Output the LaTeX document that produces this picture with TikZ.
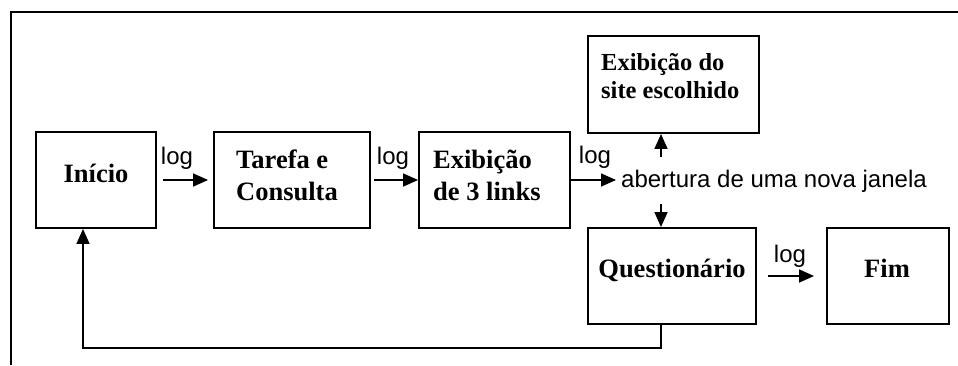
\documentclass[tikz,border=0pt]{standalone}
\usepackage{fontspec}
\setmainfont{Liberation Serif}
\newfontfamily\labfont{Liberation Sans}
\usetikzlibrary{arrows.meta}
\begin{document}
\begin{tikzpicture}[x=1pt,y=-1pt,
  box/.style={draw, line width=1.9pt, inner sep=0pt},
  btext/.style={font=\fontsize{26.5}{32}\selectfont\bfseries, inner sep=0pt, align=left},
  stext/.style={font=\fontsize{24.5}{28}\selectfont\bfseries, inner sep=0pt, align=left},
  lab/.style={font=\labfont\fontsize{24}{27}\selectfont, inner sep=0pt},
  arr/.style={line width=1.6pt, -{Triangle[length=15pt,width=13pt]}},
  ln/.style={line width=1.5pt}]
\useasboundingbox (0,0) rectangle (958,365);
% frame
\draw[ln] (11,365) -- (11,12) -- (958,12);
% boxes
\node[box, minimum width=120pt, minimum height=96pt] (inicio) at (96,180) {};
\node[box, minimum width=156pt, minimum height=96pt] (tarefa) at (292,180) {};
\node[box, minimum width=151pt, minimum height=96pt] (links) at (494.5,180) {};
\node[box, minimum width=171pt, minimum height=97pt] (site) at (673.5,84.5) {};
\node[box, minimum width=168pt, minimum height=96pt] (quest) at (672,276) {};
\node[box, minimum width=122pt, minimum height=96pt] (fim) at (888,276) {};
% box texts
\node[btext, anchor=base] (inicioT) at (96,182) {Início};
\node[btext, anchor=base west] (tarefaT) at (236,200) {Tarefa e\\Consulta};
\node[btext, anchor=base west] (linksT) at (433,200) {Exibição\\de 3 links};
\node[stext, anchor=base west] (siteT) at (601,98) {Exibição do\\site escolhido};
\node[btext, anchor=base] (questT) at (672,277) {Questionário};
\node[btext, anchor=base] (fimT) at (887,277) {Fim};
% labels
\node[lab, anchor=base] (log1) at (177,164) {log};
\node[lab, anchor=base] (log2) at (393,164) {log};
\node[lab, anchor=base] (log3) at (595,163) {log};
\node[lab, anchor=base] (log4) at (790,262) {log};
\node[lab, anchor=base west] (abertura) at (621,187) {abertura de uma nova janela};
% connectors
\draw[arr, shorten <=6pt, shorten >=5pt] (inicio.east) -- (tarefa.west);
\draw[arr, shorten <=3pt] (tarefa.east) -- (links.west);
\draw[arr, shorten >=5pt] (links.east) -- (links.east -| abertura.west);
\coordinate (up0) at (661,157);
\coordinate (dn0) at (661,204);
\draw[arr] (up0) -- (up0 |- site.south);
\draw[arr] (dn0) -- (dn0 |- quest.north);
\draw[arr, shorten <=11pt, shorten >=12pt] (quest.east) -- (fim.west);
\coordinate (fbr) at (661,348);
\coordinate (fbl) at (83,348);
\draw[arr] (fbr |- quest.south) -- (fbr) -- (fbl) -- (fbl |- inicio.south);
\end{tikzpicture}
\end{document}
